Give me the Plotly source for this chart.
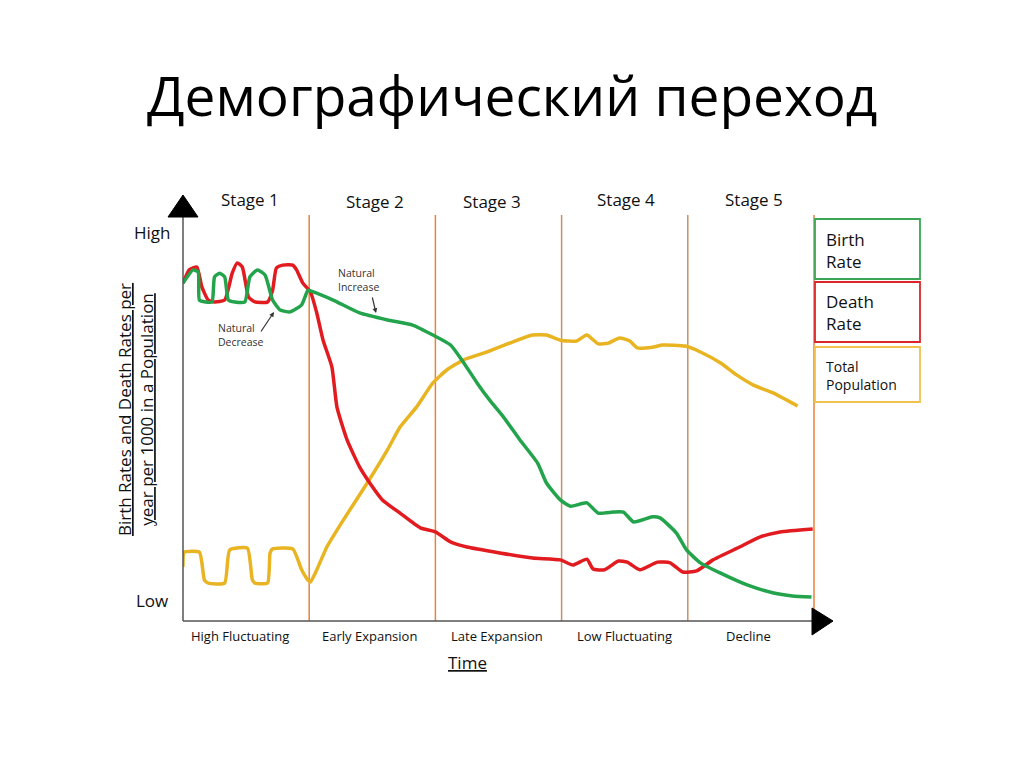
import plotly.graph_objects as go

# ---- data (time in stage units 0..5, value 0=Low .. 100=High) ----
birth_t = [0.00, 0.08, 0.12, 0.13, 0.18, 0.23, 0.25, 0.29, 0.33, 0.36, 0.41, 0.49, 0.53, 0.59, 0.65,
           0.71, 0.77, 0.85, 0.94, 0.99, 1.01, 1.19, 1.40, 1.62, 1.82, 1.98, 2.12, 2.22, 2.33, 2.43,
           2.54, 2.67, 2.81, 2.88, 2.99, 3.07, 3.20, 3.29, 3.41, 3.49, 3.57, 3.72, 3.78, 3.91, 3.99,
           4.10, 4.26, 4.47, 4.68, 4.83, 4.98]
birth_v = [86.1, 89.7, 89.1, 81.5, 81.0, 81.0, 87.8, 88.8, 87.8, 81.5, 81.0, 81.0, 87.8, 89.7, 88.3,
           81.5, 78.8, 78.3, 80.2, 84.2, 84.0, 81.5, 78.0, 76.1, 74.7, 72.0, 69.3, 64.7, 59.0, 54.3,
           49.7, 43.5, 37.2, 31.8, 27.2, 25.5, 26.4, 23.6, 23.9, 23.9, 21.2, 22.6, 22.3, 18.2, 13.6,
           10.1, 7.3, 4.1, 1.9, 1.1, 0.8]

death_t = [0.00, 0.05, 0.11, 0.15, 0.20, 0.25, 0.33, 0.39, 0.43, 0.47, 0.52, 0.57, 0.67, 0.71, 0.74,
           0.79, 0.87, 0.90, 0.95, 1.01, 1.06, 1.11, 1.18, 1.22, 1.30, 1.40, 1.48, 1.58, 1.72, 1.88,
           2.00, 2.12, 2.25, 2.51, 2.77, 2.99, 3.09, 3.20, 3.25, 3.34, 3.45, 3.52, 3.62, 3.76, 3.86,
           3.96, 4.07, 4.20, 4.41, 4.57, 4.73, 4.99]
death_v = [86.1, 89.7, 90.5, 85.0, 81.5, 81.0, 81.5, 88.8, 91.6, 90.5, 82.3, 81.0, 81.0, 84.2, 90.2,
           91.0, 91.0, 89.7, 86.1, 83.7, 78.0, 70.6, 63.3, 52.4, 43.5, 36.1, 31.8, 27.2, 23.6, 19.6,
           18.5, 15.8, 14.4, 12.8, 11.4, 10.9, 9.5, 11.1, 8.4, 8.2, 10.6, 10.3, 8.2, 10.3, 10.1,
           7.6, 7.9, 10.9, 14.4, 17.1, 18.5, 19.3]

pop_t = [0.00, 0.01, 0.13, 0.17, 0.20, 0.33, 0.37, 0.51, 0.55, 0.57, 0.67, 0.69, 0.71, 0.87, 0.94,
         0.99, 1.01, 1.06, 1.14, 1.27, 1.46, 1.62, 1.72, 1.85, 1.98, 2.09, 2.22, 2.41, 2.61, 2.77,
         2.88, 2.99, 3.12, 3.20, 3.29, 3.37, 3.46, 3.54, 3.60, 3.72, 3.80, 3.98, 4.10, 4.26, 4.39,
         4.52, 4.68, 4.87]
pop_v = [9.0, 13.0, 13.0, 5.4, 4.6, 4.6, 13.6, 14.1, 5.4, 4.6, 4.6, 12.8, 13.9, 13.9, 8.2,
         5.4, 4.9, 8.2, 14.4, 21.7, 31.8, 40.8, 47.0, 52.4, 59.0, 62.5, 65.2, 67.4, 70.1, 72.0,
         72.0, 70.6, 70.4, 72.0, 69.6, 69.8, 71.2, 70.4, 68.5, 68.7, 69.3, 69.0, 67.4, 64.4, 61.1,
         58.4, 56.2, 52.7]

stage_labels = ["Stage 1", "Stage 2", "Stage 3", "Stage 4", "Stage 5"]
phase_labels = ["High Fluctuating", "Early Expansion", "Late Expansion", "Low Fluctuating", "Decline"]
legend_labels = ["Birth<br>Rate", "Death<br>Rate", "Total<br>Population"]
title_text = "Демографический переход"

# ---- layout in pixels (page coordinates; figure sits at an 8px body offset) ----
OFF = 8
W, H = 1024 - OFF, 767 - OFF
L, R, T, B = 183, 833, 195, 621  # plot area in page pixels
STAGE_PX = 126.2

def px(x):
    return (x - L) / (R - L)

def py(y):
    return (B - y) / (B - T)

GREEN = "#23A44C"
RED = "#E11B1F"
GOLD = "#E9B422"
FONT = "Open Sans"

fig = go.Figure()
fig.add_trace(go.Scatter(x=pop_t, y=pop_v, mode="lines",
                         line=dict(color=GOLD, width=3.5, shape="spline", smoothing=0.5)))
fig.add_trace(go.Scatter(x=death_t, y=death_v, mode="lines",
                         line=dict(color=RED, width=3.5, shape="spline", smoothing=0.5)))
fig.add_trace(go.Scatter(x=birth_t, y=birth_v, mode="lines",
                         line=dict(color=GREEN, width=3.5, shape="spline", smoothing=0.5)))

shapes = []
stage_cols = ["#E8823A", "#E8823A", "#C98F66", "#C98F66", "#E8823A"]
for i, c in enumerate(stage_cols):
    shapes.append(dict(type="line", xref="x", yref="paper", x0=i + 1, x1=i + 1,
                       y0=0, y1=py(215), line=dict(color=c, width=1.5), layer="below"))
shapes.append(dict(type="line", xref="paper", yref="paper", x0=0, x1=0, y0=0, y1=py(212),
                   line=dict(color="#555555", width=1.5)))
shapes.append(dict(type="line", xref="paper", yref="paper", x0=0, x1=px(815), y0=0, y1=0,
                   line=dict(color="#555555", width=1.5)))
shapes.append(dict(type="path", xref="paper", yref="paper",
                   path=f"M {px(168)} {py(217)} L {px(183)} {py(195)} L {px(198)} {py(217)} Z",
                   fillcolor="black", line=dict(color="black", width=1)))
shapes.append(dict(type="path", xref="paper", yref="paper",
                   path=f"M {px(812)} {py(608)} L {px(833)} {py(621)} L {px(812)} {py(635)} Z",
                   fillcolor="black", line=dict(color="black", width=1)))
boxes = [(219, 279, "#3AA655"), (282, 342, "#D9262B"), (347, 402, "#F2C14E")]
for (y0, y1, c) in boxes:
    shapes.append(dict(type="rect", xref="paper", yref="paper", x0=px(815), x1=px(920),
                       y0=py(y1), y1=py(y0), line=dict(color=c, width=1.8), fillcolor="white"))

ann = []
ann.append(dict(text=title_text, xref="paper", yref="paper", x=px(512), y=py(95),
                showarrow=False, font=dict(family=FONT, size=55, color="black"),
                xanchor="center", yanchor="middle"))
stage_x = [250, 375, 492, 626, 754]
stage_y = [200, 201, 201, 199, 199]
for s, x, y in zip(stage_labels, stage_x, stage_y):
    ann.append(dict(text=s, xref="paper", yref="paper", x=px(x), y=py(y), showarrow=False,
                    font=dict(family=FONT, size=17, color="#111"), xanchor="center", yanchor="middle"))
phase_x = [240, 369, 497, 624, 748]
for s, x in zip(phase_labels, phase_x):
    ann.append(dict(text=s, xref="paper", yref="paper", x=px(x), y=py(636), showarrow=False,
                    font=dict(family=FONT, size=13, color="#111"), xanchor="center", yanchor="middle"))
ann.append(dict(text="<u>Time</u>", xref="paper", yref="paper", x=px(467), y=py(662), showarrow=False,
                font=dict(family=FONT, size=17, color="#111"), xanchor="center", yanchor="middle"))
ann.append(dict(text="High", xref="paper", yref="paper", x=px(172), y=py(233), showarrow=False,
                font=dict(family=FONT, size=17, color="#111"), xanchor="right", yanchor="middle"))
ann.append(dict(text="Low", xref="paper", yref="paper", x=px(170), y=py(600), showarrow=False,
                font=dict(family=FONT, size=17, color="#111"), xanchor="right", yanchor="middle"))
ann.append(dict(text="<u>Birth Rates and Death Rates per</u><br><u>year per 1000 in a Population</u>",
                xref="paper", yref="paper", x=px(135), y=py(410), showarrow=False, textangle=-90,
                font=dict(family=FONT, size=17, color="#111"), xanchor="center", yanchor="middle"))
leg_pos = [(824, 250, 17), (824, 312, 17), (824, 375, 14)]
for s, (x, y, fs) in zip(legend_labels, leg_pos):
    ann.append(dict(text=s, xref="paper", yref="paper", x=px(x), y=py(y), showarrow=False, align="left",
                    font=dict(family=FONT, size=fs, color="#111"), xanchor="left", yanchor="middle"))
ann.append(dict(text="Natural<br>Increase", xref="paper", yref="paper", x=px(336), y=py(280),
                showarrow=False, align="left", font=dict(family=FONT, size=10.5, color="#333"),
                xanchor="left", yanchor="middle"))
ann.append(dict(text="Natural<br>Decrease", xref="paper", yref="paper", x=px(216), y=py(335),
                showarrow=False, align="left", font=dict(family=FONT, size=10.5, color="#333"),
                xanchor="left", yanchor="middle"))
ann.append(dict(text="", xref="paper", yref="paper", x=px(376), y=py(313), showarrow=True,
                axref="pixel", ayref="pixel", ax=-4, ay=-17, arrowhead=2, arrowsize=0.8,
                arrowwidth=1.2, arrowcolor="#333"))
ann.append(dict(text="", xref="paper", yref="paper", x=px(274), y=py(312), showarrow=True,
                axref="pixel", ayref="pixel", ax=-14, ay=21, arrowhead=2, arrowsize=0.8,
                arrowwidth=1.2, arrowcolor="#333"))

x_max = (R - L) / STAGE_PX
y_lo = (600 - B) * 100 / 368
y_hi = (600 - T) * 100 / 368

fig.update_layout(
    width=W, height=H, autosize=False,
    margin=dict(l=L - OFF, r=W - (R - OFF), t=T - OFF, b=H - (B - OFF), pad=0),
    paper_bgcolor="white", plot_bgcolor="white",
    showlegend=False,
    xaxis=dict(range=[0, x_max], visible=False, fixedrange=True),
    yaxis=dict(range=[y_lo, y_hi], visible=False, fixedrange=True),
    shapes=shapes, annotations=ann,
)
fig.write_html("out.html", config=dict(displayModeBar=False))
